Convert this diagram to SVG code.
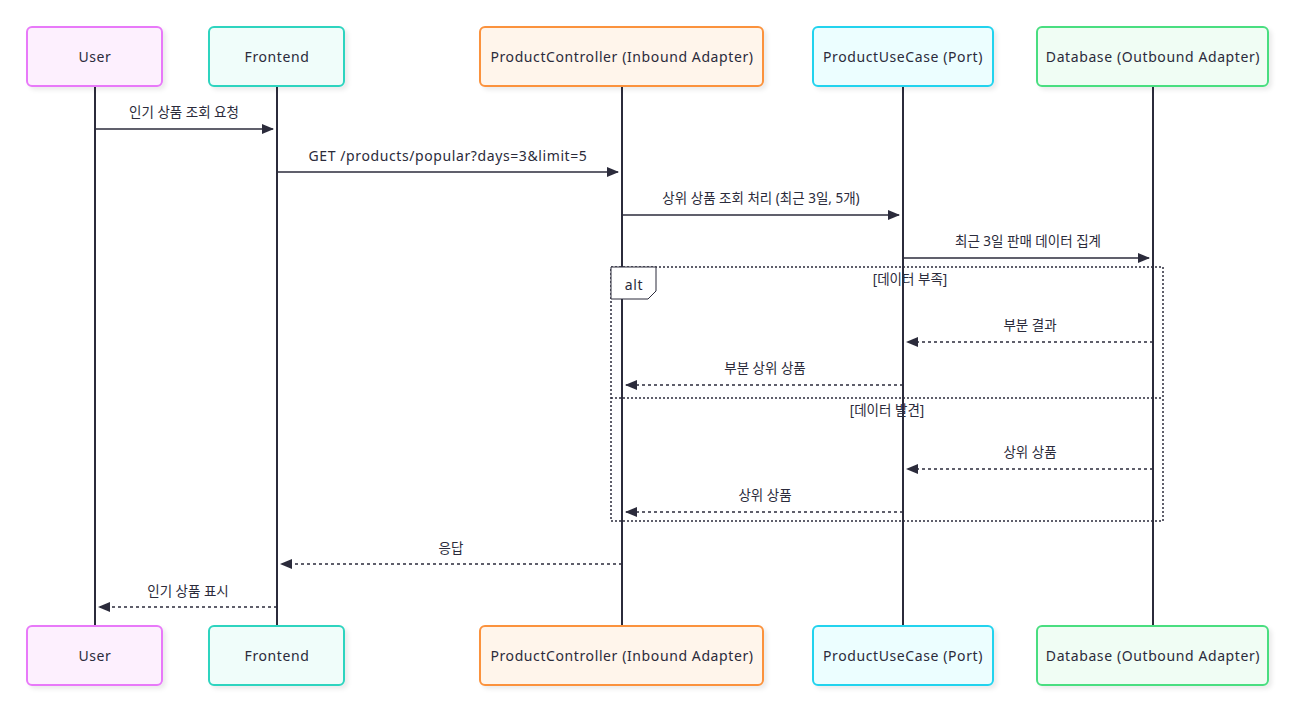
<svg xmlns="http://www.w3.org/2000/svg" width="1300" height="715" viewBox="0 0 1300 715">
<style>
text{font-family:"Noto Sans","Noto Sans CJK KR",sans-serif;font-size:14px;fill:#2b2b3b;text-anchor:middle}
.lat{letter-spacing:0.6px}
.ko{font-size:13.5px}
.actor{stroke-width:2}
.life{stroke:#2b2b3b;stroke-width:2}
.msg{stroke:#2b2b3b;stroke-width:1.5;fill:none}
.dash{stroke-dasharray:3,3}
.frame{fill:none;stroke:#2b2b3b;stroke-width:1.5;stroke-dasharray:2,2}
</style>
<defs>
<filter id="sh" x="-10%" y="-10%" width="130%" height="140%"><feDropShadow dx="3" dy="3" stdDeviation="2" flood-color="#000" flood-opacity="0.08"/></filter>
<marker id="ah2" viewBox="0 0 12 10" refX="11" refY="5" markerWidth="12" markerHeight="10" orient="auto" markerUnits="userSpaceOnUse"><path d="M0,0 L12,5 L0,10 z" fill="#2b2b3b"/></marker>
</defs>
<g id="lifelines">
<line class="life" x1="95" y1="86" x2="95" y2="626"/>
<line class="life" x1="277" y1="86" x2="277" y2="626"/>
<line class="life" x1="622" y1="86" x2="622" y2="626"/>
<line class="life" x1="903" y1="86" x2="903" y2="626"/>
<line class="life" x1="1153" y1="86" x2="1153" y2="626"/>
</g>
<g id="top-actors">
<g id="user-top"><rect x="27" y="27" width="135" height="59" rx="5" fill="#fdf0fe" stroke="#e879f9" class="actor" filter="url(#sh)"/><text class="lat" x="95" y="62">User</text></g>
<g id="frontend-top"><rect x="209" y="27" width="135" height="59" rx="5" fill="#f0fdfa" stroke="#2dd4bf" class="actor" filter="url(#sh)"/><text class="lat" x="277" y="62">Frontend</text></g>
<g id="controller-top"><rect x="480" y="27" width="283" height="59" rx="5" fill="#fff5eb" stroke="#fb923c" class="actor" filter="url(#sh)"/><text class="lat" x="622" y="62">ProductController (Inbound Adapter)</text></g>
<g id="usecase-top"><rect x="813" y="27" width="180" height="59" rx="5" fill="#ecfeff" stroke="#22d3ee" class="actor" filter="url(#sh)"/><text class="lat" x="903" y="62">ProductUseCase (Port)</text></g>
<g id="database-top"><rect x="1037" y="27" width="231" height="59" rx="5" fill="#f0fdf4" stroke="#4ade80" class="actor" filter="url(#sh)"/><text class="lat" x="1153" y="62">Database (Outbound Adapter)</text></g>
</g>
<g id="alt-frame">
<rect class="frame" x="611" y="267" width="552" height="254"/>
<line class="frame" x1="611" y1="398" x2="1163" y2="398"/>
<path d="M611,267 H656 V291 L648,299 H611 Z" fill="#fff" stroke="#2b2b3b" stroke-width="1"/>
<text class="lat" x="634" y="290">alt</text>
<text class="ko" x="910" y="284">[데이터 부족]</text>
<text class="ko" x="887" y="415">[데이터 발견]</text>
</g>
<g id="connectors">
<line class="msg" x1="95" y1="129" x2="273" y2="129" marker-end="url(#ah2)"/>
<text class="ko" x="184" y="117">인기 상품 조회 요청</text>
<line class="msg" x1="277" y1="172" x2="618" y2="172" marker-end="url(#ah2)"/>
<text class="lat" x="448" y="161">GET /products/popular?days=3&amp;limit=5</text>
<line class="msg" x1="622" y1="215" x2="899" y2="215" marker-end="url(#ah2)"/>
<text class="ko" x="761" y="203">상위 상품 조회 처리 (최근 3일, 5개)</text>
<line class="msg" x1="903" y1="258" x2="1149" y2="258" marker-end="url(#ah2)"/>
<text class="ko" x="1028" y="246">최근 3일 판매 데이터 집계</text>
<line class="msg dash" x1="1153" y1="342" x2="907" y2="342" marker-end="url(#ah2)"/>
<text class="ko" x="1030" y="330">부분 결과</text>
<line class="msg dash" x1="903" y1="385" x2="626" y2="385" marker-end="url(#ah2)"/>
<text class="ko" x="765" y="373">부분 상위 상품</text>
<line class="msg dash" x1="1153" y1="469" x2="907" y2="469" marker-end="url(#ah2)"/>
<text class="ko" x="1030" y="457">상위 상품</text>
<line class="msg dash" x1="903" y1="512" x2="626" y2="512" marker-end="url(#ah2)"/>
<text class="ko" x="765" y="500">상위 상품</text>
<line class="msg dash" x1="622" y1="564" x2="281" y2="564" marker-end="url(#ah2)"/>
<text class="ko" x="451" y="553">응답</text>
<line class="msg dash" x1="277" y1="607" x2="99" y2="607" marker-end="url(#ah2)"/>
<text class="ko" x="188" y="596">인기 상품 표시</text>
</g>
<g id="bottom-actors">
<g id="user-bottom"><rect x="27" y="626" width="135" height="59" rx="5" fill="#fdf0fe" stroke="#e879f9" class="actor" filter="url(#sh)"/><text class="lat" x="95" y="661">User</text></g>
<g id="frontend-bottom"><rect x="209" y="626" width="135" height="59" rx="5" fill="#f0fdfa" stroke="#2dd4bf" class="actor" filter="url(#sh)"/><text class="lat" x="277" y="661">Frontend</text></g>
<g id="controller-bottom"><rect x="480" y="626" width="283" height="59" rx="5" fill="#fff5eb" stroke="#fb923c" class="actor" filter="url(#sh)"/><text class="lat" x="622" y="661">ProductController (Inbound Adapter)</text></g>
<g id="usecase-bottom"><rect x="813" y="626" width="180" height="59" rx="5" fill="#ecfeff" stroke="#22d3ee" class="actor" filter="url(#sh)"/><text class="lat" x="903" y="661">ProductUseCase (Port)</text></g>
<g id="database-bottom"><rect x="1037" y="626" width="231" height="59" rx="5" fill="#f0fdf4" stroke="#4ade80" class="actor" filter="url(#sh)"/><text class="lat" x="1153" y="661">Database (Outbound Adapter)</text></g>
</g>
</svg>
